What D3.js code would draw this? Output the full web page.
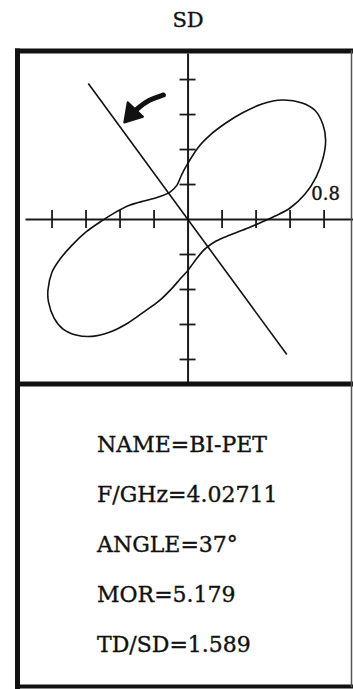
<!DOCTYPE html>
<html>
<head>
<meta charset="utf-8">
<script src="https://cdn.jsdelivr.net/npm/d3@7/dist/d3.min.js"></script>
<style>
  html, body { margin: 0; padding: 0; background: #fff; }
  svg { display: block; }
  text { font-family: "DejaVu Serif", "Liberation Serif", serif; fill: #111; stroke: #111; stroke-width: 0.35; }
</style>
</head>
<body>
<div id="chart"></div>
<script>
// Polar response trace (normalised field, closed loop), x/y in pattern units
const patternX = [
  0.000, -0.044, -0.085, -0.162, -0.250, -0.350, -0.456, -0.562, -0.656, -0.732,
  -0.785, -0.818, -0.821, -0.797, -0.750, -0.679, -0.597, -0.515, -0.432, -0.338,
  -0.244, -0.162, -0.103, -0.062, -0.038, -0.021,
  0.003, 0.032, 0.074, 0.132, 0.221, 0.321, 0.438, 0.556, 0.674, 0.750,
  0.797, 0.812, 0.797, 0.756, 0.691, 0.603, 0.515, 0.438, 0.356, 0.250,
  0.168, 0.103, 0.056, 0.021
];
const patternY = [
  -0.297, -0.343, -0.389, -0.463, -0.526, -0.594, -0.646, -0.671, -0.663, -0.629,
  -0.566, -0.474, -0.406, -0.303, -0.229, -0.149, -0.074, -0.017, 0.034, 0.080,
  0.106, 0.129, 0.154, 0.194, 0.246, 0.280,
  0.320, 0.366, 0.423, 0.480, 0.546, 0.606, 0.657, 0.680, 0.663, 0.620,
  0.537, 0.451, 0.349, 0.240, 0.143, 0.063, 0.017, -0.017, -0.051, -0.091,
  -0.126, -0.171, -0.223, -0.269
];

// Axis ticks (0.2 per division)
const xTicks = [-0.8, -0.6, -0.4, -0.2, 0.2, 0.4, 0.6, 0.8];
const yTicks = [-0.8, -0.6, -0.4, -0.2, 0.2, 0.4, 0.6, 0.8];
const xTickLabels = [0.8];

// Principal-axis direction (degrees from vertical) and its drawn half-length
const angleDeg = 37;
const axisHalfLength = 0.97;

// Rotation arrow (pattern units): shaft points, then head tip and wings
const arrowShaftX = [-0.142, -0.232, -0.291, -0.330];
const arrowShaftY = [0.709, 0.680, 0.634, 0.600];
const arrowHeadX = [-0.372, -0.352, -0.262];
const arrowHeadY = [0.552, 0.668, 0.585];

// Readout panel
const readoutKeys = ["NAME", "F/GHz", "ANGLE", "MOR", "TD/SD"];
const readoutValues = ["BI-PET", "4.02711", angleDeg + "°", "5.179", "1.589"];

const chartTitle = "SD";

const W = 353, H = 689;
const frame = { left: 17.5, top: 51, right: 351.5, divider: 384, bottom: 686.5 };

const svg = d3.select("#chart").append("svg")
  .attr("width", W).attr("height", H);

// Scales: origin of the plot at (187.5, 219)
const x = d3.scaleLinear().domain([-0.956, 0.97]).range([25, 352.5]);
const y = d3.scaleLinear().domain([-0.943, 0.949]).range([384, 53]);

// Title
svg.append("text")
  .attr("x", 188).attr("y", 27)
  .attr("text-anchor", "middle")
  .attr("font-size", 21)
  .text(chartTitle);

// Horizontal axis through the origin, ticks crossing the line
const gx = svg.append("g")
  .attr("transform", `translate(0,${y(0)})`)
  .call(d3.axisBottom(x).tickValues(xTicks).tickSizeOuter(0).tickFormat(""));
gx.select(".domain").attr("stroke", "#1a1a1a").attr("stroke-width", 2);
gx.selectAll(".tick line").attr("y1", -9).attr("y2", 9)
  .attr("stroke", "#1a1a1a").attr("stroke-width", 1.8);

// Vertical axis through the origin
const gy = svg.append("g")
  .attr("transform", `translate(${x(0)},0)`)
  .call(d3.axisLeft(y).tickValues(yTicks).tickSizeOuter(0).tickFormat(""));
gy.select(".domain").attr("stroke", "#1a1a1a").attr("stroke-width", 2);
gy.selectAll(".tick line").attr("x1", -8).attr("x2", 8)
  .attr("stroke", "#1a1a1a").attr("stroke-width", 1.8);

// Scale label at the outer x tick
svg.selectAll(".xlab").data(xTickLabels).join("text")
  .attr("class", "xlab")
  .attr("x", d => x(d) + 2)
  .attr("y", y(0) - 19)
  .attr("text-anchor", "middle")
  .attr("font-size", 18)
  .text(d => d.toFixed(1));

// Pattern loop
const pts = patternX.map((v, i) => [v, patternY[i]]);
svg.append("path")
  .datum(pts)
  .attr("fill", "none")
  .attr("stroke", "#111")
  .attr("stroke-width", 1.6)
  .attr("d", d3.line().x(d => x(d[0])).y(d => y(d[1])).curve(d3.curveCatmullRomClosed.alpha(0.5)));

// Principal axis line at the stated angle
const a = angleDeg * Math.PI / 180;
const ends = [
  [-Math.sin(a) * axisHalfLength, Math.cos(a) * axisHalfLength],
  [Math.sin(a) * axisHalfLength, -Math.cos(a) * axisHalfLength]
];
svg.append("line")
  .attr("x1", x(ends[0][0])).attr("y1", y(ends[0][1]))
  .attr("x2", x(ends[1][0])).attr("y2", y(ends[1][1]))
  .attr("stroke", "#111").attr("stroke-width", 1.6);

// Rotation arrow
const shaft = arrowShaftX.map((v, i) => [v, arrowShaftY[i]]);
svg.append("path")
  .datum(shaft)
  .attr("fill", "none")
  .attr("stroke", "#111")
  .attr("stroke-width", 5)
  .attr("stroke-linecap", "round")
  .attr("d", d3.line().x(d => x(d[0])).y(d => y(d[1])).curve(d3.curveBasis));
const head = arrowHeadX.map((v, i) => [x(v), y(arrowHeadY[i])]);
svg.append("polygon")
  .attr("points", head.map(p => p.join(",")).join(" "))
  .attr("fill", "#111")
  .attr("stroke", "#111")
  .attr("stroke-width", 2)
  .attr("stroke-linejoin", "round");

// Frame: heavy left, top, divider and bottom rules; light right edge
const frameG = svg.append("g").attr("stroke", "#111").attr("stroke-linecap", "square");
frameG.append("line").attr("x1", frame.left).attr("y1", frame.top)
  .attr("x2", frame.left).attr("y2", frame.bottom).attr("stroke-width", 5);
frameG.append("line").attr("x1", frame.left).attr("y1", frame.top)
  .attr("x2", W).attr("y2", frame.top).attr("stroke-width", 5);
frameG.append("line").attr("x1", frame.left).attr("y1", frame.divider)
  .attr("x2", W).attr("y2", frame.divider).attr("stroke-width", 5);
frameG.append("line").attr("x1", frame.left).attr("y1", frame.bottom)
  .attr("x2", W).attr("y2", frame.bottom).attr("stroke-width", 4);
frameG.append("line").attr("x1", frame.right).attr("y1", frame.top)
  .attr("x2", frame.right).attr("y2", frame.bottom)
  .attr("stroke-width", 1.5).attr("stroke", "#555");

// Readout text
svg.selectAll(".readout").data(readoutKeys).join("text")
  .attr("class", "readout")
  .attr("x", 97)
  .attr("y", (d, i) => 452 + i * 50)
  .attr("font-size", 22)
  .text((d, i) => d + "=" + readoutValues[i]);
</script>
</body>
</html>
